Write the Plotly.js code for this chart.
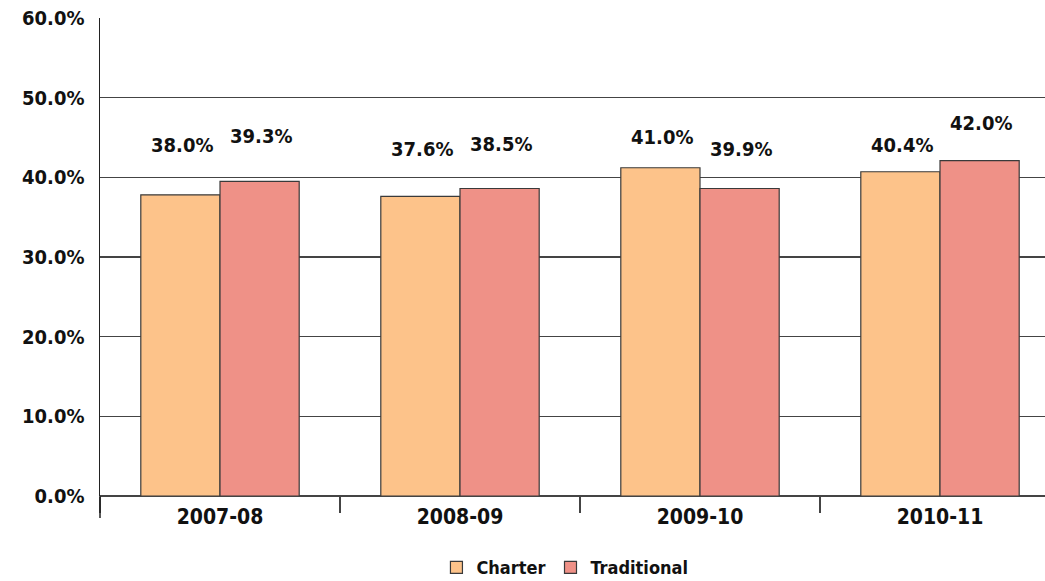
<!DOCTYPE html>
<html>
<head>
<meta charset="utf-8">
<script src="https://cdn.plot.ly/plotly-3.0.1.min.js"></script>
<style>
html,body{margin:0;padding:0;background:#fff;overflow:hidden;}
#chart{width:1045px;height:581px;}
</style>
</head>
<body>
<div id="chart"></div>
<script>
// ---- data ----
const years = ['2007-08', '2008-09', '2009-10', '2010-11'];
const charterValues = [37.8, 37.6, 41.2, 40.7];
const traditionalValues = [39.5, 38.6, 38.6, 42.1];
const charterLabels = ['38.0%', '37.6%', '41.0%', '40.4%'];
const traditionalLabels = ['39.3%', '38.5%', '39.9%', '42.0%'];
const seriesNames = ['Charter', 'Traditional'];
const yTickValues = [0, 10, 20, 30, 40, 50, 60];
const yTickLabels = ['0.0%', '10.0%', '20.0%', '30.0%', '40.0%', '50.0%', '60.0%'];

// ---- style ----
const FONT = '"DejaVu Sans Condensed", "Open Sans", sans-serif';
const charterColor = '#FDC38A';
const traditionalColor = '#EF9187';
const charterLift = [50, 47, 31, 27];
const traditionalLift = [45, 44, 39, 38];

const traces = [
  {
    type: 'bar', name: seriesNames[0], x: years, y: charterValues,
    marker: {color: charterColor, line: {color: '#3a3a3a', width: 1.2}},
    hoverinfo: 'skip'
  },
  {
    type: 'bar', name: seriesNames[1], x: years, y: traditionalValues,
    marker: {color: traditionalColor, line: {color: '#3a3a3a', width: 1.2}},
    hoverinfo: 'skip'
  }
];

const annotations = [];
years.forEach((yr, i) => {
  annotations.push({
    x: yr, y: charterValues[i], xref: 'x', yref: 'y',
    text: charterLabels[i], showarrow: false,
    xshift: -38, yshift: charterLift[i], yanchor: 'middle',
    font: {family: FONT, size: 20, color: '#111', weight: 'bold'}
  });
  annotations.push({
    x: yr, y: traditionalValues[i], xref: 'x', yref: 'y',
    text: traditionalLabels[i], showarrow: false,
    xshift: 41, yshift: traditionalLift[i], yanchor: 'middle',
    font: {family: FONT, size: 20, color: '#111', weight: 'bold'}
  });
});

const layout = {
  width: 1045, height: 581,
  margin: {l: 100, r: 0, t: 18, b: 85, autoexpand: false},
  paper_bgcolor: '#fff', plot_bgcolor: '#fff',
  barmode: 'group', bargap: 0.34, bargroupgap: 0,
  showlegend: true,
  legend: {
    orientation: 'h', x: 0.492, xanchor: 'center', y: -0.15, yanchor: 'middle',
    font: {family: FONT, size: 18, color: '#111', weight: 'bold'},
    itemclick: false, itemdoubleclick: false
  },
  xaxis: {
    type: 'category', range: [-0.5, 3.4375], automargin: false,
    tickson: 'boundaries', ticks: 'outside', ticklen: 16, tickwidth: 1.3, tickcolor: '#444',
    showgrid: false, showline: false, zeroline: false,
    ticklabelstandoff: 6,
    tickfont: {family: FONT, size: 21, color: '#111', weight: 'bold'},
    fixedrange: true
  },
  yaxis: {
    range: [0, 60], tickmode: 'array', tickvals: yTickValues, ticktext: yTickLabels,
    automargin: false,
    showgrid: true, gridcolor: '#444', gridwidth: 1.4,
    zeroline: true, zerolinecolor: '#444', zerolinewidth: 1.4,
    showline: true, linecolor: '#222', linewidth: 1.5,
    ticks: '', ticklabelstandoff: 10,
    tickfont: {family: FONT, size: 20, color: '#111', weight: 'bold'},
    fixedrange: true
  },
  shapes: [
    {type: 'line', xref: 'paper', yref: 'paper', x0: 0, x1: 0, y0: 0, y1: -0.046,
     line: {color: '#222', width: 1.5}}
  ],
  annotations: annotations
};

Plotly.newPlot('chart', traces, layout, {displayModeBar: false, staticPlot: true});
</script>
</body>
</html>
